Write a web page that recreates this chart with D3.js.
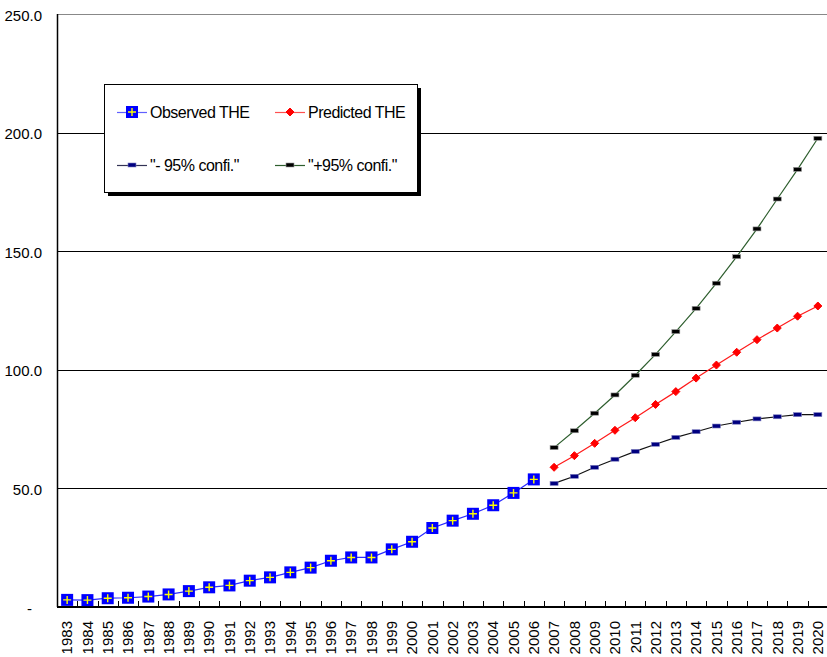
<!DOCTYPE html>
<meta charset="utf-8">
<style>
body { margin: 0; background: #fff; }
text { font-family: "Liberation Sans", Arial, sans-serif; font-size: 15px; fill: #000; }
.grid line { stroke: #000; shape-rendering: crispEdges; }
</style>
<body>
<script src="https://cdnjs.cloudflare.com/ajax/libs/d3/7.8.5/d3.min.js"></script>
<script>

// years on the category axis
var years = d3.range(1983, 2021).map(String);

// observed total health expenditure, 1983-2006
var obsYears = years.slice(0, 24);
var observed = [3.0, 2.9, 3.7, 3.9, 4.4, 5.3, 6.7, 8.3, 9.1, 11.1, 12.5, 14.6,
  16.6, 19.5, 20.9, 20.9, 24.3, 27.5, 33.3, 36.4, 39.3, 42.9, 48.1, 53.8];

// forecast 2007-2020
var predYears = years.slice(24);
var predicted = [58.9, 63.8, 69.0, 74.5, 79.8, 85.4, 90.8, 96.5, 102.0, 107.4, 112.7, 117.6, 122.6, 126.9];
var lower95 = [52.1, 55.1, 58.9, 62.3, 65.6, 68.6, 71.5, 73.9, 76.3, 77.9, 79.3, 80.2, 81.1, 81.1];
var upper95 = [67.2, 74.3, 81.7, 89.4, 97.7, 106.5, 116.1, 125.9, 136.5, 147.7, 159.4, 172.0, 184.5, 197.6];

var yTicks = [0, 50, 100, 150, 200, 250];

var margin = {top: 14, right: -1, bottom: 50, left: 57},
    W = 827, H = 657,
    width = W - margin.left - margin.right,
    height = H - margin.top - margin.bottom;

var svg = d3.select("body").append("svg")
  .attr("width", W).attr("height", H)
  .append("g")
  .attr("transform", "translate(" + margin.left + "," + margin.top + ")");

var x = d3.scaleBand().domain(years).range([0, width]).padding(0);
var y = d3.scaleLinear().domain([0, 250]).range([height, 0]);
var cx = function(yr) { return x(yr) + x.bandwidth() / 2; };

// gridlines
svg.append("g").attr("class", "grid")
  .selectAll("line").data(yTicks.slice(1)).enter().append("line")
  .attr("x1", 0).attr("x2", width)
  .attr("y1", function(d) { return Math.round(y(d)) + 0.5; })
  .attr("y2", function(d) { return Math.round(y(d)) + 0.5; })
  .style("stroke", function(d) { return d === 250 ? "#888" : "#000"; });

// y axis
var yAxis = svg.append("g")
  .call(d3.axisLeft(y).tickValues(yTicks).tickSize(0).tickPadding(15)
    .tickFormat(function(d) { return d === 0 ? "-" : d.toFixed(1); }));
yAxis.select(".domain").remove();
yAxis.selectAll("text").style("font-size", "15px").attr("dy", "0.4em")
  .attr("dx", function(d) { return d === 0 ? -10 : 0; });
svg.append("line").attr("x1", 0.5).attr("x2", 0.5).attr("y1", 0).attr("y2", height)
  .attr("stroke", "#000").attr("stroke-width", 1.5);

// x axis
var xAxis = svg.append("g")
  .attr("transform", "translate(0," + height + ")")
  .call(d3.axisBottom(x).tickSize(0).tickPadding(0));
xAxis.select(".domain").remove();
xAxis.selectAll("text")
  .style("font-size", "15px")
  .attr("text-anchor", "end")
  .attr("transform", "rotate(-90)")
  .attr("x", -14).attr("y", 0).attr("dy", "0.35em");
svg.append("line").attr("x1", 0).attr("x2", width).attr("y1", height).attr("y2", height)
  .attr("stroke", "#000").attr("stroke-width", 2);
svg.append("g").selectAll("line").data(years.slice(1)).enter().append("line")
  .attr("x1", function(d) { return Math.round(x(d)) + 0.5; })
  .attr("x2", function(d) { return Math.round(x(d)) + 0.5; })
  .attr("y1", height - 6).attr("y2", height)
  .attr("stroke", "#000");

var line = d3.line().x(function(d) { return cx(d[0]); }).y(function(d) { return y(d[1]); });
var obs = d3.zip(obsYears, observed);
var pred = d3.zip(predYears, predicted);
var lo = d3.zip(predYears, lower95);
var hi = d3.zip(predYears, upper95);

// series lines
svg.append("path").datum(obs).attr("d", line).attr("fill", "none").attr("stroke", "#2a2aff").attr("stroke-width", 1.2);
svg.append("path").datum(pred).attr("d", line).attr("fill", "none").attr("stroke", "#ff1a1a").attr("stroke-width", 1.2);
svg.append("path").datum(lo).attr("d", line).attr("fill", "none").attr("stroke", "#111").attr("stroke-width", 1.2);
svg.append("path").datum(hi).attr("d", line).attr("fill", "none").attr("stroke", "#2e5e2e").attr("stroke-width", 1.2);

// marker helpers
function squarePlus(g) {
  g.append("rect").attr("x", -6).attr("y", -6).attr("width", 12).attr("height", 12).attr("fill", "#0000ff");
  g.append("path").attr("d", "M-4,0H4M0,-4V4").attr("stroke", "#ffff00").attr("stroke-width", 1.4);
}
function diamond(g) {
  g.append("path").attr("d", "M0,-4L4,0L0,4L-4,0Z").attr("fill", "#ff0000").attr("stroke", "#ff0000");
}
function dash(color, edge) {
  return function(g) {
    g.append("rect").attr("x", -4).attr("y", -2).attr("width", 8).attr("height", 4)
      .attr("fill", color).attr("stroke", edge).attr("stroke-width", 0.6);
  };
}

function markers(data, fn) {
  svg.append("g").selectAll("g").data(data).enter().append("g")
    .attr("transform", function(d) { return "translate(" + cx(d[0]) + "," + y(d[1]) + ")"; })
    .each(function() { fn(d3.select(this)); });
}
markers(obs, squarePlus);
markers(pred, diamond);
markers(lo, dash("#000080", "#8080c0"));
markers(hi, dash("#000", "#999"));

// legend
var lg = d3.select("svg").append("g");
lg.append("rect").attr("x", 108).attr("y", 88).attr("width", 313).attr("height", 108).attr("fill", "#000");
lg.append("rect").attr("x", 104.5).attr("y", 84.5).attr("width", 313).attr("height", 108)
  .attr("fill", "#fff").attr("stroke", "#000");

var items = [
  {label: "Observed THE", x: 117, y: 112, color: "#6060ff", mark: squarePlus},
  {label: "Predicted THE", x: 275, y: 112, color: "#ff5050", mark: diamond},
  {label: "\"- 95% confi.\"", x: 117, y: 165, color: "#333355", mark: dash("#000080", "#8080c0")},
  {label: "\"+95% confi.\"", x: 275, y: 165, color: "#2e5e2e", mark: dash("#000", "#999")}
];
items.forEach(function(it) {
  var g = lg.append("g").attr("transform", "translate(" + it.x + "," + it.y + ")");
  g.append("line").attr("x1", 0).attr("x2", 30).attr("y1", 0.5).attr("y2", 0.5).attr("stroke", it.color).attr("stroke-width", 1.2);
  it.mark(g.append("g").attr("transform", "translate(15,0)"));
  g.append("text").attr("x", 33).attr("y", 0).attr("dy", "0.36em")
    .style("font-size", "16px").style("letter-spacing", "-0.5px").text(it.label);
});

</script>
</body>
